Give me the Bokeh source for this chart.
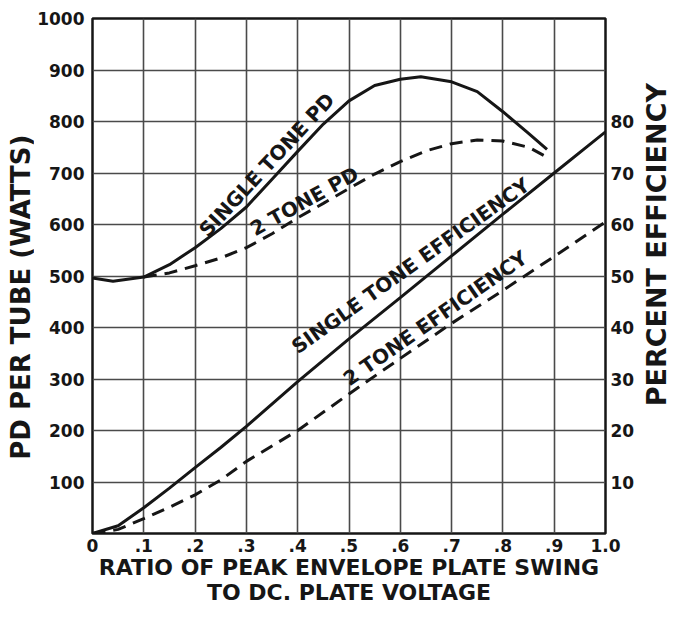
from bokeh.plotting import figure
from bokeh.models import Range1d, LinearAxis, FixedTicker, Label
from bokeh.layouts import row
from bokeh.embed import file_html
from bokeh.resources import INLINE

# ---- data ----
x_ticks = [0, 0.1, 0.2, 0.3, 0.4, 0.5, 0.6, 0.7, 0.8, 0.9, 1.0]
x_tick_labels = ["0", ".1", ".2", ".3", ".4", ".5", ".6", ".7", ".8", ".9", "1.0"]
y_ticks = [100, 200, 300, 400, 500, 600, 700, 800, 900, 1000]
pct_ticks = [10, 20, 30, 40, 50, 60, 70, 80]

# Plate dissipation per tube (watts)
single_pd_x = [0, 0.04, 0.1, 0.15, 0.2, 0.25, 0.3, 0.35, 0.4, 0.45, 0.5, 0.55, 0.6, 0.64, 0.7, 0.75, 0.8, 0.85, 0.886]
single_pd_y = [496, 490, 498, 522, 555, 592, 634, 688, 742, 795, 840, 870, 882, 887, 877, 858, 819, 777, 746]
two_pd_x = [0.1, 0.15, 0.2, 0.25, 0.3, 0.35, 0.4, 0.45, 0.5, 0.55, 0.6, 0.65, 0.7, 0.75, 0.8, 0.85, 0.88]
two_pd_y = [498, 506, 520, 535, 555, 582, 613, 641, 670, 698, 722, 743, 757, 764, 762, 750, 734]

# Percent efficiency
eff_x = [0, 0.05, 0.1, 0.15, 0.2, 0.25, 0.3, 0.4, 0.5, 0.6, 0.7, 0.8, 0.9, 1.0]
single_eff = [0, 1.5, 5.0, 8.8, 12.8, 16.7, 20.8, 29.5, 37.8, 45.8, 53.9, 62.0, 70.0, 78.0]
two_eff = [0, 0.8, 2.9, 5.1, 7.5, 10.4, 14.0, 20.0, 27.1, 34.0, 40.8, 47.2, 53.8, 60.5]

FONT = "DejaVu Sans"
INK = "#161616"
H = 608

# ---- main chart ----
p = figure(width=603, height=H, x_range=Range1d(0, 1), y_range=Range1d(0, 1000),
           output_backend="svg", toolbar_location=None,
           min_border_left=58, min_border_right=30, min_border_top=18, min_border_bottom=75)
p.extra_y_ranges = {"pct": Range1d(0, 100)}
p.background_fill_color = "white"
p.border_fill_color = "white"
p.outline_line_color = INK
p.outline_line_width = 2.5

bottom = p.xaxis[0]
left = p.yaxis[0]
bottom.ticker = FixedTicker(ticks=x_ticks)
bottom.major_label_overrides = {t: s for t, s in zip(x_ticks, x_tick_labels)}
left.ticker = FixedTicker(ticks=y_ticks)
right = LinearAxis(y_range_name="pct", ticker=FixedTicker(ticks=pct_ticks))
p.add_layout(right, "right")

for ax in [bottom, left, right]:
    ax.axis_line_color = None
    ax.major_tick_line_color = None
    ax.minor_tick_line_color = None
    ax.major_tick_out = 0
    ax.major_tick_in = 0
    ax.major_label_text_font = FONT
    ax.major_label_text_font_size = "17px"
    ax.major_label_text_font_style = "bold"
    ax.major_label_text_color = INK
    ax.axis_label_text_font = FONT
    ax.axis_label_text_font_style = "bold"
    ax.axis_label_text_color = INK
bottom.major_label_standoff = 5
left.major_label_standoff = 8
right.major_label_standoff = 5

bottom.axis_label = "RATIO OF PEAK ENVELOPE PLATE SWING\nTO DC. PLATE VOLTAGE"
bottom.axis_label_text_font_size = "22px"
bottom.axis_label_standoff = 0
bottom.axis_label_text_line_height = 1.0

# grid
p.xgrid.ticker = FixedTicker(ticks=x_ticks)
p.ygrid.ticker = FixedTicker(ticks=y_ticks)
for g in [p.xgrid[0], p.ygrid[0]]:
    g.grid_line_color = "#4a4a4a"
    g.grid_line_width = 1.6

# curves
p.line(single_pd_x, single_pd_y, line_color=INK, line_width=3)
p.line(two_pd_x, two_pd_y, line_color=INK, line_width=3, line_dash="13 8")
p.line(eff_x, single_eff, y_range_name="pct", line_color=INK, line_width=3)
p.line(eff_x, two_eff, y_range_name="pct", line_color=INK, line_width=3, line_dash="13 8")

# curve labels
def curve_label(text, x, y, ang, rng="default"):
    p.add_layout(Label(x=x, y=y, text=text, angle=ang, angle_units="deg", y_range_name=rng,
                       text_font=FONT, text_font_size="20px", text_font_style="bold",
                       text_color=INK, text_align="center", text_baseline="middle"))

curve_label("SINGLE TONE PD", 0.340, 716, 47)
curve_label("2 TONE PD", 0.413, 645, 29)
curve_label("SINGLE TONE EFFICIENCY", 0.620, 52.0, 35.5, "pct")
curve_label("2 TONE EFFICIENCY", 0.668, 41.8, 35, "pct")

# ---- side strips holding the vertical titles (both read bottom-to-top) ----
def title_strip(text, width, cx, cy, size):
    s = figure(width=width, height=H, x_range=Range1d(0, width), y_range=Range1d(0, H),
               x_axis_location=None, y_axis_location=None, min_border=0,
               output_backend="svg", toolbar_location=None)
    s.outline_line_color = None
    s.background_fill_color = "white"
    s.border_fill_color = "white"
    s.grid.visible = False
    s.add_layout(Label(x=cx, y=cy, text=text, angle=90, angle_units="deg",
                       text_font=FONT, text_font_size=size, text_font_style="bold",
                       text_color=INK, text_align="center", text_baseline="middle"))
    return s

left_strip = title_strip("PD PER TUBE (WATTS)", 34, 20, 279, "26px")
right_strip = title_strip("PERCENT EFFICIENCY", 35, 19, 341, "27px")

layout = row(left_strip, p, right_strip)
open("out.html", "w").write(file_html(layout, INLINE))
